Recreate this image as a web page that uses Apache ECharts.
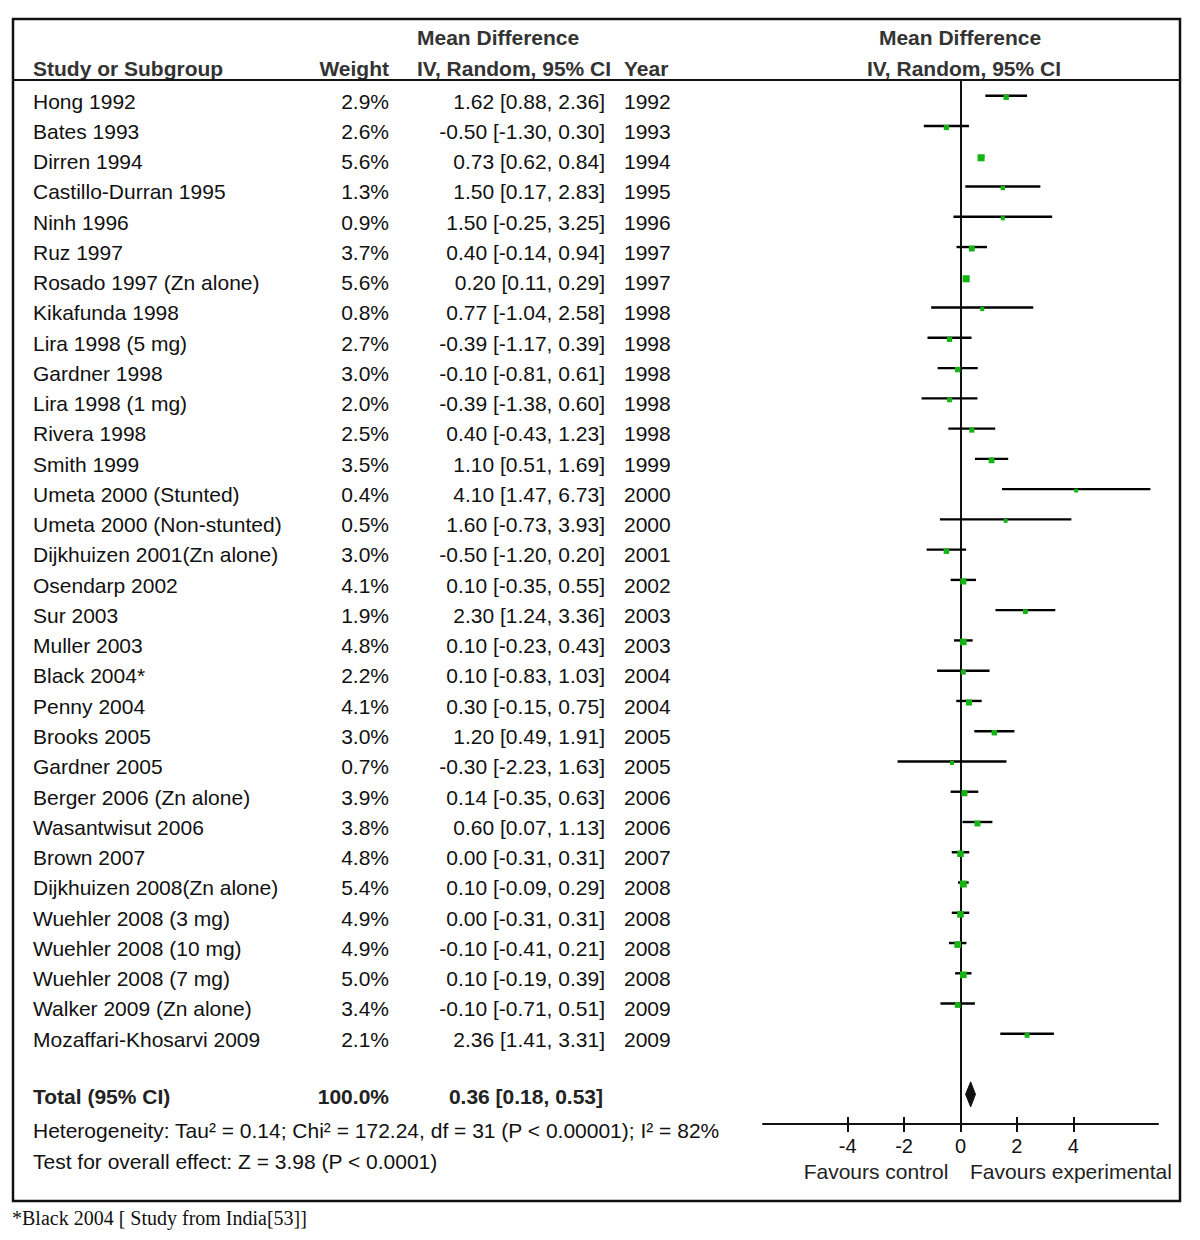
<!DOCTYPE html>
<html>
<head>
<meta charset="utf-8">
<title>Forest plot</title>
<script src="https://cdn.jsdelivr.net/npm/echarts@6/dist/echarts.min.js"></script>
<style>
  html, body { margin: 0; padding: 0; background: #fff; }
  #chart { width: 1200px; height: 1240px; }
</style>
</head>
<body>
<div id="chart"></div>
<script>
const studies = [
  'Hong 1992', 'Bates 1993', 'Dirren 1994', 'Castillo-Durran 1995', 'Ninh 1996',
  'Ruz 1997', 'Rosado 1997 (Zn alone)', 'Kikafunda 1998', 'Lira 1998 (5 mg)', 'Gardner 1998',
  'Lira 1998 (1 mg)', 'Rivera 1998', 'Smith 1999', 'Umeta 2000 (Stunted)', 'Umeta 2000 (Non-stunted)',
  'Dijkhuizen 2001(Zn alone)', 'Osendarp 2002', 'Sur 2003', 'Muller 2003', 'Black 2004*',
  'Penny 2004', 'Brooks 2005', 'Gardner 2005', 'Berger 2006 (Zn alone)', 'Wasantwisut 2006',
  'Brown 2007', 'Dijkhuizen 2008(Zn alone)', 'Wuehler 2008 (3 mg)', 'Wuehler 2008 (10 mg)', 'Wuehler 2008 (7 mg)',
  'Walker 2009 (Zn alone)', 'Mozaffari-Khosarvi 2009'
]
const weights = [2.9, 2.6, 5.6, 1.3, 0.9, 3.7, 5.6, 0.8, 2.7, 3.0, 2.0, 2.5, 3.5, 0.4, 0.5,
  3.0, 4.1, 1.9, 4.8, 2.2, 4.1, 3.0, 0.7, 3.9, 3.8, 4.8, 5.4, 4.9, 4.9, 5.0, 3.4, 2.1]
const meanDiff = [1.62, -0.50, 0.73, 1.50, 1.50, 0.40, 0.20, 0.77, -0.39, -0.10, -0.39, 0.40, 1.10, 4.10, 1.60,
  -0.50, 0.10, 2.30, 0.10, 0.10, 0.30, 1.20, -0.30, 0.14, 0.60, 0.00, 0.10, 0.00, -0.10, 0.10, -0.10, 2.36]
const ciLow = [0.88, -1.30, 0.62, 0.17, -0.25, -0.14, 0.11, -1.04, -1.17, -0.81, -1.38, -0.43, 0.51, 1.47, -0.73,
  -1.20, -0.35, 1.24, -0.23, -0.83, -0.15, 0.49, -2.23, -0.35, 0.07, -0.31, -0.09, -0.31, -0.41, -0.19, -0.71, 1.41]
const ciHigh = [2.36, 0.30, 0.84, 2.83, 3.25, 0.94, 0.29, 2.58, 0.39, 0.61, 0.60, 1.23, 1.69, 6.73, 3.93,
  0.20, 0.55, 3.36, 0.43, 1.03, 0.75, 1.91, 1.63, 0.63, 1.13, 0.31, 0.29, 0.31, 0.21, 0.39, 0.51, 3.31]
const years = [1992, 1993, 1994, 1995, 1996, 1997, 1997, 1998, 1998, 1998, 1998, 1998, 1999, 2000, 2000,
  2001, 2002, 2003, 2003, 2004, 2004, 2005, 2005, 2006, 2006, 2007, 2008, 2008, 2008, 2008, 2009, 2009]
const totalWeight = 100.0
const totalMD = 0.36
const totalLow = 0.18
const totalHigh = 0.53
const xTicks = [-4, -2, 0, 2, 4]

const totalRow = 33
const font = '"Liberation Sans", Arial, sans-serif'
const fmt = (v) => v.toFixed(2)

const chart = echarts.init(document.getElementById('chart'), null, { renderer: 'svg' })

const option = {
  animation: false,
  backgroundColor: '#fff',
  grid: { left: 763, width: 395, top: 80, height: 1044, containLabel: false },
  xAxis: [
    {
      type: 'value', min: -7, max: 7, position: 'bottom',
      axisLine: { show: true, onZero: false, lineStyle: { color: '#111', width: 2 } },
      axisTick: { show: true, inside: true, length: 7, customValues: xTicks, lineStyle: { color: '#111', width: 2 } },
      axisLabel: { show: true, customValues: xTicks, margin: 12, color: '#111', fontSize: 20, fontFamily: font },
      splitLine: { show: false }
    },
    {
      type: 'value', min: -7, max: 7, position: 'bottom',
      axisLine: { show: false, onZero: false },
      axisTick: { show: true, inside: false, length: 8, customValues: xTicks, lineStyle: { color: '#111', width: 2 } },
      axisLabel: { show: false },
      splitLine: { show: false }
    }
  ],
  yAxis: {
    type: 'value', inverse: true, min: -0.52, max: 33.98,
    axisLine: { show: true, onZero: true, lineStyle: { color: '#111', width: 2 } },
    axisTick: { show: false },
    axisLabel: { show: false },
    splitLine: { show: false }
  },
  series: [
    {
      // confidence interval lines
      type: 'custom',
      data: studies.map((s, i) => [ciLow[i], ciHigh[i], i]),
      renderItem: function(params, api) {
        const a = api.coord([api.value(0), api.value(2)])
        const b = api.coord([api.value(1), api.value(2)])
        return {
          type: 'line',
          shape: { x1: a[0], y1: a[1], x2: b[0], y2: b[1] },
          style: { stroke: '#000', lineWidth: 2.4 }
        }
      },
      z: 2
    },
    {
      // study estimates
      type: 'scatter',
      symbol: 'rect',
      data: studies.map((s, i) => ({
        value: [meanDiff[i], i],
        symbolSize: 3.6 + weights[i] * 0.62
      })),
      symbolOffset: [0, 1.5],
      itemStyle: { color: '#14b414', opacity: 1 },
      z: 3
    },
    {
      // pooled diamond
      type: 'custom',
      data: [[totalLow, totalMD, totalHigh, totalRow]],
      renderItem: function(params, api) {
        const y = api.value(3)
        const l = api.coord([api.value(0), y])
        const m = api.coord([api.value(1), y])
        const r = api.coord([api.value(2), y])
        const h = 12.5
        return {
          type: 'polygon',
          shape: { points: [[l[0], l[1]], [m[0], m[1] - h], [r[0], r[1]], [m[0], m[1] + h]] },
          style: { fill: '#111', stroke: '#111', lineWidth: 1 }
        }
      },
      z: 3
    }
  ]
}

chart.setOption(option)

// table text, placed on the same rows as the plot
const rowY = (i) => chart.convertToPixel({ gridIndex: 0 }, [0, i])[1] + 5.3
const txt = (x, y, text, opts) => Object.assign({
  type: 'text', x: x, y: y,
  style: Object.assign({
    text: text, fill: '#111', font: '21px ' + font, textVerticalAlign: 'middle', textAlign: 'left'
  }, (opts && opts.style) || {})
})

const graphic = [
  { type: 'rect', shape: { x: 13, y: 19, width: 1167, height: 1182 }, style: { fill: 'none', stroke: '#111', lineWidth: 2.5 }, z: 10 },
  { type: 'line', shape: { x1: 13, y1: 80, x2: 1180, y2: 80 }, style: { stroke: '#111', lineWidth: 2 }, z: 10 }
]
const headFont = 'bold 21px ' + font
const head = { fill: '#333', font: headFont }
graphic.push(txt(417, 37, 'Mean Difference', { style: head }))
graphic.push(txt(33, 68, 'Study or Subgroup', { style: head }))
graphic.push(txt(389, 68, 'Weight', { style: Object.assign({ textAlign: 'right' }, head) }))
graphic.push(txt(417, 68, 'IV, Random, 95% CI', { style: head }))
graphic.push(txt(624, 68, 'Year', { style: head }))
graphic.push(txt(960, 37, 'Mean Difference', { style: Object.assign({ textAlign: 'center' }, head) }))
graphic.push(txt(964, 68, 'IV, Random, 95% CI', { style: Object.assign({ textAlign: 'center' }, head) }))

studies.forEach((s, i) => {
  const y = rowY(i)
  graphic.push(txt(33, y, s))
  graphic.push(txt(389, y, weights[i].toFixed(1) + '%', { style: { textAlign: 'right' } }))
  graphic.push(txt(605, y, fmt(meanDiff[i]) + ' [' + fmt(ciLow[i]) + ', ' + fmt(ciHigh[i]) + ']', { style: { textAlign: 'right' } }))
  graphic.push(txt(624, y, String(years[i])))
})

const ty = 1096
const tot = { fill: '#222', font: headFont }
graphic.push(txt(33, ty, 'Total (95% CI)', { style: tot }))
graphic.push(txt(389, ty, totalWeight.toFixed(1) + '%', { style: Object.assign({ textAlign: 'right' }, tot) }))
graphic.push(txt(603, ty, fmt(totalMD) + ' [' + fmt(totalLow) + ', ' + fmt(totalHigh) + ']', { style: Object.assign({ textAlign: 'right' }, tot) }))
graphic.push(txt(33, 1130, 'Heterogeneity: Tau² = 0.14; Chi² = 172.24, df = 31 (P < 0.00001); I² = 82%'))
graphic.push(txt(33, 1161, 'Test for overall effect: Z = 3.98 (P < 0.0001)'))
graphic.push(txt(876, 1171, 'Favours control', { style: { textAlign: 'center', fill: '#222' } }))
graphic.push(txt(1071, 1171, 'Favours experimental', { style: { textAlign: 'center', fill: '#222' } }))
graphic.push(txt(12, 1218, '*Black 2004 [ Study from India[53]]', { style: { font: '20px "Liberation Serif", "Times New Roman", serif' } }))

chart.setOption({ graphic: graphic })
</script>
</body>
</html>
